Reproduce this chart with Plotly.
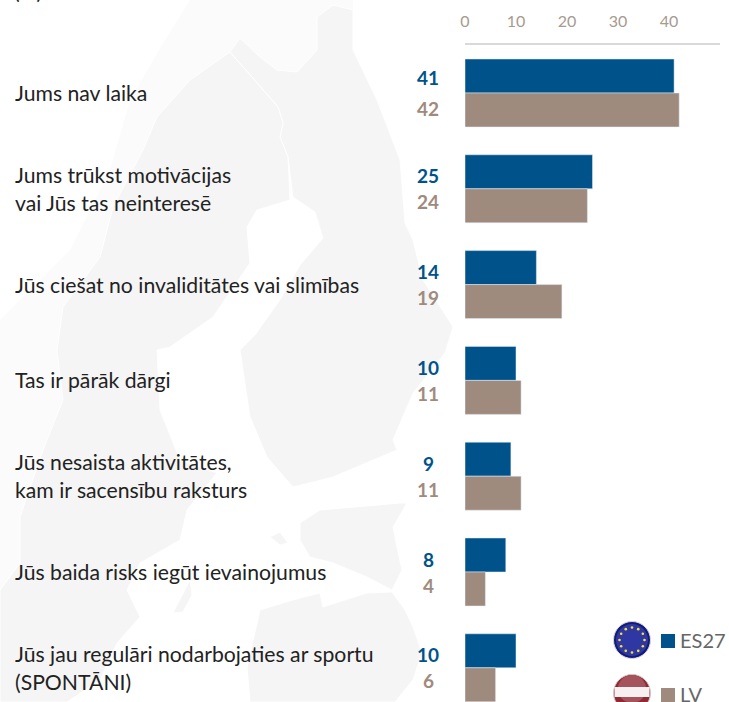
import math
import re
import plotly.graph_objects as go

categories = ["Jums nav laika", "Jums trūkst motivācijas<br>vai Jūs tas neinteresē",
              "Jūs ciešat no invaliditātes vai slimības", "Tas ir pārāk dārgi",
              "Jūs nesaista aktivitātes,<br>kam ir sacensību raksturs",
              "Jūs baida risks iegūt ievainojumus",
              "Jūs jau regulāri nodarbojaties ar sportu<br>(SPONTĀNI)"]
es27 = [41, 25, 14, 10, 9, 8, 10]
lv = [42, 24, 19, 11, 11, 4, 6]
ticks = [0, 10, 20, 30, 40, 50]

BLUE = "#00538a"
TAUPE = "#9f8b7e"
W, H = 729, 702
L, R, T, B = 465, 720, 45, 702
BAND = 95.8
FONT = "Lato"

def X(x): return (x - L) / (R - L)
def Y(y): return (B - y) / (B - T)

# Faint decorative background map: outlines in page pixels
LAND = [
 # Finland
 "M230,52 L240,38 L260,57 L277,70 L297,72 L317,50 L317,17 L333,5 L353,10 L353,50 L377,100 L400,160 L405,223 L413,240 L423,280 L453,327 L445,353 L413,393 L393,440 L397,450 L333,477 L293,487 L267,457 L250,417 L240,350 L255,335 L280,300 L300,265 L323,238 L315,212 L293,197 L288,157 L280,137 L283,123 L278,107 Z",
 # Sweden
 "M230,52 L278,107 L283,123 L280,137 L288,157 L290,200 L257,210 L247,227 L250,263 L213,317 L170,347 L157,350 L160,410 L180,460 L217,473 L187,510 L180,540 L140,563 L127,590 L140,617 L117,643 L100,680 L67,702 L0,702 L0,590 L20,563 L20,517 L43,450 L63,400 L57,350 L63,307 L100,257 L113,207 L143,150 L157,117 L190,80 Z",
 # Estonia
 "M300,523 L320,510 L400,503 L407,503 L393,527 L397,547 L402,570 L392,590 L367,577 L333,563 L310,557 L300,540 Z",
 # Latvia and below
 "M260,610 L293,600 L320,593 L323,607 L367,593 L392,592 L405,610 L413,627 L422,653 L413,680 L395,702 L250,702 L247,667 Z",
 # Islands
 "M190,580 L173,613 L183,612 L192,595 Z",
 "M270,537 L280,532 L288,543 L280,545 Z",
]
NORWAY = [
 "M230,52 L240,38 L260,57 L277,70 L297,72 L317,50 L317,17 L333,5 L353,10 L353,0 L190,0 L165,40 L130,100 L110,170 L70,250 L0,320 L0,590 L20,563 L20,517 L43,450 L63,400 L57,350 L63,307 L100,257 L113,207 L143,150 L157,117 L190,80 Z",
]

def path_to_paper(p):
    out = []
    for t in re.findall(r"[MLZ]|-?\d+\.?\d*,-?\d+\.?\d*", p):
        if t in "MLZ":
            out.append(t)
        else:
            a, b = t.split(",")
            out.append(f"{X(float(a)):.4f},{Y(float(b)):.4f}")
    return " ".join(out)

shapes = [dict(type="path", path=path_to_paper(p), xref="paper", yref="paper",
               line=dict(width=0), fillcolor="#fbfbfb", layer="below") for p in NORWAY]
shapes += [dict(type="path", path=path_to_paper(p), xref="paper", yref="paper",
                line=dict(width=1, color="#ffffff"), fillcolor="#f5f5f5", layer="below") for p in LAND]

def circle(cx, cy, r, col, line=None):
    return dict(type="circle", xref="paper", yref="paper", x0=X(cx - r), x1=X(cx + r),
                y0=Y(cy + r), y1=Y(cy - r), fillcolor=col, layer="above",
                line=dict(width=0 if line is None else 1, color=line or col))

# Legend swatches
for (x0, y0, c) in [(661, 634, BLUE), (661, 688, TAUPE)]:
    shapes.append(dict(type="rect", xref="paper", yref="paper", x0=X(x0), x1=X(x0 + 14),
                       y0=Y(y0 + 14), y1=Y(y0), fillcolor=c, line=dict(width=0)))

# EU flag
shapes.append(circle(632, 640, 18.5, "#141a78", line="#d5d5dd"))
shapes.append(circle(632, 640, 16, "#2f37a3"))
for i in range(12):
    a = math.radians(30 * i)
    shapes.append(circle(632 + 12.5 * math.sin(a), 640 - 12.5 * math.cos(a), 1.3, "#f2e23a"))
# LV flag
shapes.append(circle(632, 693, 18.5, "#8f2a35", line="#d5c5c8"))
shapes.append(circle(632, 689, 14, "#a5545c"))
shapes.append(dict(type="rect", xref="paper", yref="paper", x0=X(614.5), x1=X(649.5),
                   y0=Y(697), y1=Y(687), fillcolor="#f6f0f0", line=dict(width=0)))

TEXT = "#222222"
annotations = []
for i, c in enumerate(categories):
    yc = 93 + i * BAND
    off = 15.5 if i == 0 else 13
    annotations.append(dict(xref="paper", yref="paper", x=X(13), y=Y(yc), text=c, showarrow=False,
                            xanchor="left", yanchor="middle", align="left",
                            font=dict(family=FONT, size=21.2, color=TEXT)))
    annotations.append(dict(xref="paper", yref="paper", x=X(428), y=Y(yc - off), text=f"<b>{es27[i]}</b>",
                            showarrow=False, xanchor="center", yanchor="middle",
                            font=dict(family=FONT, size=19, color=BLUE)))
    annotations.append(dict(xref="paper", yref="paper", x=X(428), y=Y(yc + off), text=f"<b>{lv[i]}</b>",
                            showarrow=False, xanchor="center", yanchor="middle",
                            font=dict(family=FONT, size=19, color=TAUPE)))
annotations.append(dict(xref="paper", yref="paper", x=X(678), y=Y(640), text="ES27", showarrow=False,
                        xanchor="left", yanchor="middle", font=dict(family=FONT, size=20, color="#666666")))
annotations.append(dict(xref="paper", yref="paper", x=X(678), y=Y(694), text="LV", showarrow=False,
                        xanchor="left", yanchor="middle", font=dict(family=FONT, size=20, color="#666666")))
annotations.append(dict(xref="paper", yref="paper", x=X(12), y=Y(-9), text="(%)", showarrow=False,
                        xanchor="left", yanchor="middle", font=dict(family=FONT, size=21, color=TEXT)))

fig = go.Figure()
fig.add_bar(y=categories, x=es27, orientation="h", marker_color=BLUE, name="ES27", showlegend=False)
fig.add_bar(y=categories, x=lv, orientation="h", marker_color=TAUPE, name="LV", showlegend=False)

fig.update_layout(
    width=W, height=H, autosize=False, barmode="group", bargap=0.29, bargroupgap=0,
    margin=dict(l=L, r=W - R, t=T, b=0, pad=0),
    paper_bgcolor="white", plot_bgcolor="rgba(0,0,0,0)", showlegend=False,
    shapes=shapes, annotations=annotations,
    xaxis=dict(side="top", range=[0, 50], tickvals=ticks, showgrid=False, zeroline=False,
               showline=True, linecolor="#d9d9d9", linewidth=2, ticks="", ticklen=0,
               ticklabelstandoff=10,
               tickfont=dict(family=FONT, size=16, color="#a79a8f")),
    yaxis=dict(type="category", categoryorder="array", categoryarray=categories,
               range=[(B - 93) / BAND, -(93 - T) / BAND], showticklabels=False,
               showgrid=False, zeroline=False, showline=False, ticks=""),
)
fig.write_html("out.html", config=dict(displayModeBar=False),
               post_script="document.body.style.margin='0';document.documentElement.style.overflow='hidden';")
